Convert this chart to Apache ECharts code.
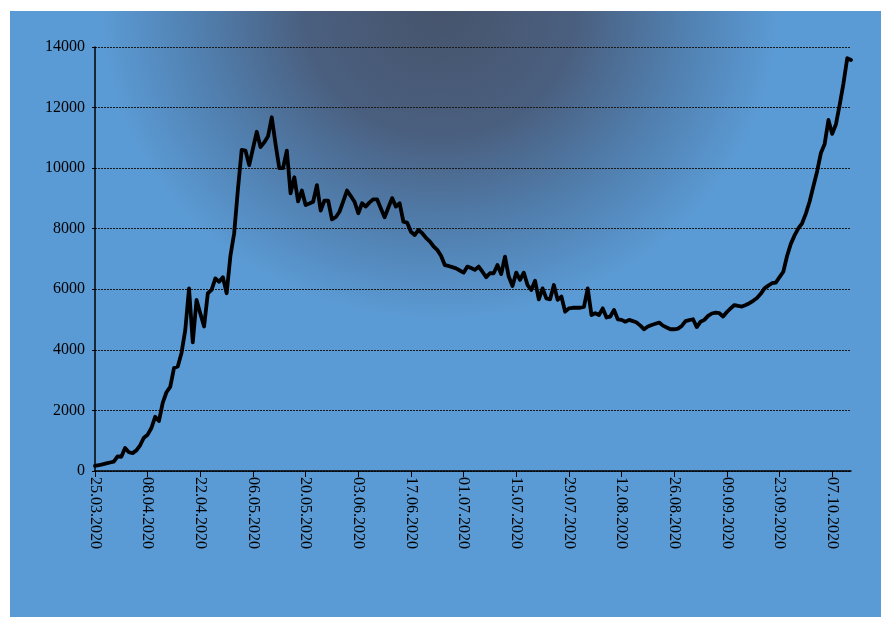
<!DOCTYPE html>
<html>
<head>
<meta charset="utf-8">
<script src="https://cdn.jsdelivr.net/npm/echarts@6/dist/echarts.min.js"></script>
<style>
  html, body { margin: 0; padding: 0; background: #ffffff; }
  #chart {
    position: absolute;
    left: 10px;
    top: 11px;
    width: 871px;
    height: 606px;
    background: radial-gradient(ellipse 340px 310px at 430px 0px, #46546c 0%, #4a5f7f 40%, #5180b0 72%, #5b9bd5 100%), #5b9bd5;
  }
</style>
</head>
<body>
<div id="chart"></div>
<script>
var start_date = [2020, 2, 25]
var day_count = 202

// daily values
var cases = [
	170, 190, 220, 250, 280, 310, 480, 470, 760, 620,
	590, 680, 850, 1100, 1200, 1420, 1790, 1650, 2250, 2600,
	2780, 3400, 3450, 3900, 4650, 6030, 4250, 5650, 5200, 4770,
	5870, 5980, 6360, 6250, 6400, 5870, 7100, 7850, 9300, 10600,
	10580, 10100, 10650, 11200, 10700, 10850, 11050, 11680, 10800, 10000,
	10000, 10580, 9170, 9700, 8900, 9260, 8780, 8830, 8890, 9440,
	8600, 8930, 8930, 8310, 8380, 8560, 8900, 9260, 9080, 8890,
	8510, 8840, 8730, 8870, 8970, 8970, 8670, 8380, 8700, 9010,
	8730, 8840, 8230, 8200, 7900, 7790, 7960, 7850, 7700, 7580,
	7420, 7300, 7110, 6800, 6770, 6730, 6690, 6620, 6550, 6750,
	6700, 6640, 6750, 6580, 6400, 6530, 6530, 6800, 6500, 7080,
	6420, 6110, 6550, 6310, 6550, 6140, 5980, 6280, 5670, 6030,
	5700, 5670, 6140, 5650, 5760, 5260, 5370, 5390, 5390, 5390,
	5420, 6030, 5150, 5210, 5150, 5370, 5070, 5100, 5320, 5010,
	4990, 4930, 4990, 4950, 4900, 4800, 4680, 4770, 4820, 4860,
	4900, 4800, 4740, 4680, 4680, 4700, 4790, 4950, 4980, 5010,
	4750, 4930, 4990, 5120, 5200, 5230, 5210, 5100, 5250, 5370,
	5480, 5450, 5430, 5480, 5540, 5620, 5710, 5850, 6030, 6120,
	6200, 6220, 6400, 6580, 7100, 7500, 7780, 8010, 8180, 8500,
	8900, 9400, 9900, 10500, 10800, 11590, 11130, 11450, 12100, 12800,
	13630, 13570
]

function pad(n) {
	return n < 10 ? '0' + n : '' + n
}

var dates = []
for (var i = 0; i < day_count; i++) {
	var d = new Date(start_date[0], start_date[1], start_date[2] + i)
	dates.push(pad(d.getDate()) + '.' + pad(d.getMonth() + 1) + '.' + d.getFullYear())
}

var chartDom = document.getElementById('chart');
var myChart = echarts.init(chartDom);
var option;

var font = '"Liberation Serif", "Times New Roman", serif'

option = {
	backgroundColor: 'transparent',
	animation: false,
	grid: {
		left: 85,
		top: 36,
		right: 30,
		bottom: 146
	},
	xAxis: {
		type: 'category',
		data: dates,
		boundaryGap: false,
		axisLine: {
			lineStyle: { color: '#000', width: 1.5 }
		},
		axisTick: {
			interval: 13,
			length: 6,
			lineStyle: { color: '#000' }
		},
		axisLabel: {
			interval: 13,
			rotate: -90,
			margin: 6,
			color: '#000',
			fontFamily: font,
			fontSize: 16
		},
		splitLine: { show: false }
	},
	yAxis: {
		type: 'value',
		min: 0,
		max: 14000,
		interval: 2000,
		axisLine: {
			show: true,
			lineStyle: { color: '#000', width: 1.5 }
		},
		axisTick: {
			show: true,
			length: 3,
			lineStyle: { color: '#000' }
		},
		axisLabel: {
			margin: 10,
			color: '#000',
			fontFamily: font,
			fontSize: 16,
			formatter: function(v) { return '' + v }
		},
		splitLine: {
			lineStyle: {
				color: '#1a1a1a',
				type: [2, 1],
				width: 1
			}
		}
	},
	series: [{
		type: 'line',
		data: cases,
		showSymbol: false,
		smooth: false,
		lineStyle: {
			color: '#000',
			width: 3.8,
			join: 'round',
			cap: 'round'
		}
	}]
};

myChart.setOption(option);
</script>
</body>
</html>
